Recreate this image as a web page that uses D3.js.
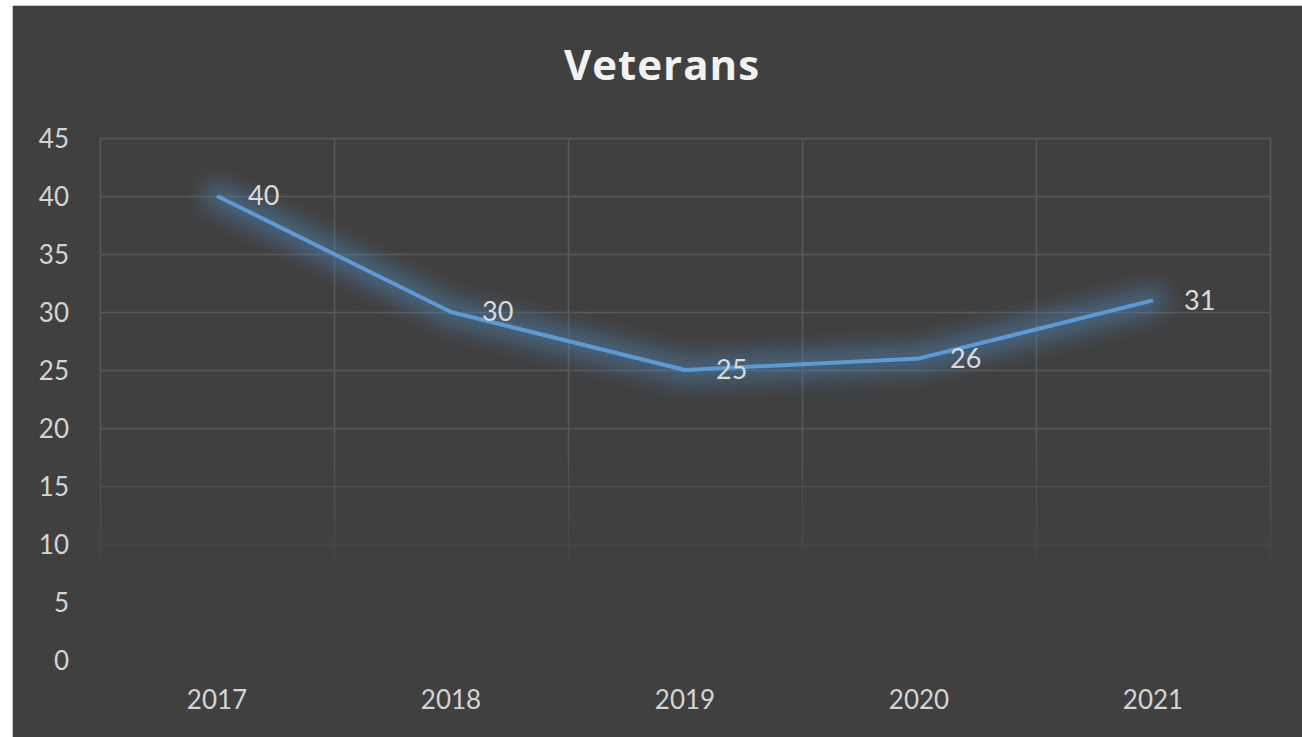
<!DOCTYPE html>
<html>
<head>
<meta charset="utf-8">
<script src="https://cdn.jsdelivr.net/npm/d3@7"></script>
<style>
  html, body { margin: 0; padding: 0; background: #ffffff; }
  svg { display: block; }
</style>
</head>
<body>
<svg width="1302" height="737"></svg>
<script>
var width = 1302;
var height = 737;

// chart data
var years = ["2017", "2018", "2019", "2020", "2021"];
var veterans = [40, 30, 25, 26, 31];
var yTicks = [0, 5, 10, 15, 20, 25, 30, 35, 40, 45];

var svg = d3.select('svg');
var defs = svg.append('defs');

// glow round the line
var glow = defs.append('filter').attr('id', 'glow')
    .attr('x', '-20%').attr('y', '-50%').attr('width', '140%').attr('height', '200%');
glow.append('feGaussianBlur').attr('in', 'SourceGraphic').attr('stdDeviation', 10);

// gridlines fade out towards the bottom
var grad = defs.append('linearGradient').attr('id', 'fade')
    .attr('gradientUnits', 'userSpaceOnUse')
    .attr('x1', 0).attr('y1', 420).attr('x2', 0).attr('y2', 590);
grad.append('stop').attr('offset', 0).attr('stop-color', '#fff');
grad.append('stop').attr('offset', 1).attr('stop-color', '#000');
defs.append('mask').attr('id', 'gridMask')
    .append('rect').attr('x', 0).attr('y', 0).attr('width', width).attr('height', height)
    .attr('fill', 'url(#fade)');

// chart background (white strip left and top like the screenshot)
svg.append('rect').attr('x', 13).attr('y', 6).attr('width', width - 13).attr('height', height - 6)
    .attr('fill', '#404040');
svg.append('line').attr('x1', 13).attr('x2', width).attr('y1', 5.5).attr('y2', 5.5)
    .attr('stroke', '#c8c8c8').attr('stroke-width', 1);
svg.append('line').attr('x1', 12.5).attr('x2', 12.5).attr('y1', 6).attr('y2', height)
    .attr('stroke', '#c8c8c8').attr('stroke-width', 1);

var x = d3.scaleBand().domain(years).range([100, 1270]);
var y = d3.scaleLinear().domain([0, 45]).range([660, 138]);

var gridG = svg.append('g').attr('mask', 'url(#gridMask)');
gridG.selectAll('.hgrid')
    .data(yTicks.filter(function (d) { return d > 0; }))
    .enter().append('line')
    .attr('x1', 100).attr('x2', 1270)
    .attr('y1', function (d) { return Math.round(y(d)) + 0.5; })
    .attr('y2', function (d) { return Math.round(y(d)) + 0.5; })
    .attr('stroke', '#5a5a5a').attr('stroke-width', 1.5);
var vEdges = years.map(function (d) { return x(d); }).concat([1270]);
gridG.selectAll('.vgrid')
    .data(vEdges)
    .enter().append('line')
    .attr('x1', function (d) { return Math.round(d) + 0.5; })
    .attr('x2', function (d) { return Math.round(d) + 0.5; })
    .attr('y1', y(45)).attr('y2', 600)
    .attr('stroke', '#5a5a5a').attr('stroke-width', 1.5);

var font = 'Lato, "Open Sans", sans-serif';

// y axis labels
var yAxis = d3.axisLeft(y).tickValues(yTicks).tickSize(0).tickPadding(0);
var yG = svg.append('g').attr('transform', 'translate(69,0)').call(yAxis);
yG.select('.domain').remove();
yG.selectAll('text').attr('font-family', font).attr('font-size', '26px')
    .attr('fill', '#d4d4d4').attr('dy', '0.35em');

// x axis labels
var xAxis = d3.axisBottom(x).tickSize(0).tickPadding(0);
var xG = svg.append('g').attr('transform', 'translate(0,700)').call(xAxis);
xG.select('.domain').remove();
xG.selectAll('text').attr('font-family', font).attr('font-size', '26px')
    .attr('fill', '#d4d4d4').attr('dy', '0.35em');

// line
var line = d3.line()
    .x(function (d, i) { return x(years[i]) + x.bandwidth() / 2; })
    .y(function (d) { return y(d); });

svg.append('path').datum(veterans)
    .attr('d', line)
    .attr('fill', 'none')
    .attr('stroke', '#4f86b8')
    .attr('stroke-opacity', 0.5)
    .attr('stroke-width', 28)
    .attr('stroke-linejoin', 'round')
    .attr('stroke-linecap', 'round')
    .attr('filter', 'url(#glow)');

svg.append('path').datum(veterans)
    .attr('d', line)
    .attr('fill', 'none')
    .attr('stroke', '#5b9bd5')
    .attr('stroke-width', 4)
    .attr('stroke-linejoin', 'round');

// data labels
svg.selectAll('.lbl')
    .data(veterans)
    .enter().append('text')
    .attr('x', function (d, i) { return x(years[i]) + x.bandwidth() / 2 + 31; })
    .attr('y', function (d) { return y(d); })
    .attr('dy', '0.35em')
    .attr('font-family', font)
    .attr('font-size', '27px')
    .attr('fill', '#dadada')
    .text(function (d) { return d; });

// title
svg.append('text')
    .attr('x', 662)
    .attr('y', 80)
    .attr('text-anchor', 'middle')
    .attr('font-family', '"Open Sans", Lato, sans-serif')
    .attr('font-weight', 'bold')
    .attr('font-size', '42px')
    .attr('letter-spacing', '1px')
    .attr('fill', '#f2f2f2')
    .text('Veterans');
</script>
</body>
</html>
